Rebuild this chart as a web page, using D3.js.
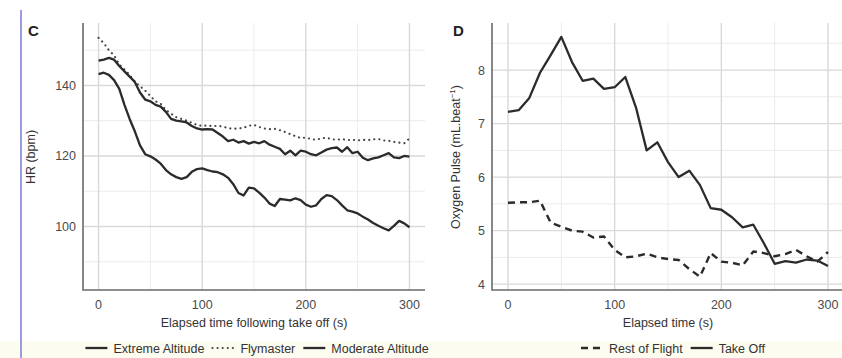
<!DOCTYPE html>
<html>
<head>
<meta charset="utf-8">
<script src="https://cdn.jsdelivr.net/npm/d3@7"></script>
<style>
  body { margin: 0; background: #fff; }
  svg { display: block; font-family: "Liberation Sans", Arial, sans-serif; }
</style>
</head>
<body>
<svg id="chart" width="842" height="358"></svg>
<script>
(function(){

  // DATA ////////////////////////////////////////////////////////////////////

  // panel C, heart rate every 5 s
  var hrTime = d3.range(0, 301, 5);
  var hrExtreme = [143.2, 143.6, 143, 141.5, 139, 134.5, 130.5, 127, 123, 120.5, 119.9, 119, 117.8, 116, 114.8,
    114, 113.5, 114, 115.5, 116.3, 116.5, 116, 115.6, 115.4, 114.8, 113.8, 112, 109.5, 108.8, 111, 110.8,
    109.6, 108.2, 106.5, 105.8, 107.8, 107.6, 107.4, 108, 107.5, 106.2, 105.6, 106, 107.8, 108.9, 108.6,
    107.5, 106, 104.6, 104.2, 103.7, 102.8, 102, 101, 100.2, 99.5, 98.9, 100.2, 101.6, 100.9, 99.8];
  var hrFlymaster = [153.5, 152, 150, 148.5, 146, 144.5, 143, 141, 139.8, 138.5, 137, 135.5, 134.8, 133, 132,
    131, 130.5, 130, 129.4, 128.8, 128.5, 128.7, 128.4, 128.6, 128.3, 127.9, 127.7, 127.8, 128, 128.6, 128.8,
    128.2, 127.8, 127.6, 127.7, 127.3, 126.8, 126.2, 125.6, 125.1, 125.2, 124.8, 124.6, 125, 125.2, 124.7,
    124.6, 124.8, 124.5, 124.6, 124.4, 124.6, 124.5, 124.7, 124.8, 124.4, 124.3, 124, 123.8, 123.6, 125];
  var hrModerate = [147, 147.3, 147.8, 147.3, 145.5, 144, 142.5, 141, 138, 136, 135.5, 134.5, 134, 132.5, 130.5,
    130, 129.8, 129.5, 128.5, 127.8, 127.5, 127.6, 127.5, 126.5, 125.5, 124.2, 124.6, 123.8, 124.2, 123.5, 124,
    123.6, 124.2, 123.2, 122.6, 122, 120.5, 121.5, 120.2, 121.5, 121.2, 120.5, 120.2, 121, 121.8, 122.2,
    122.4, 121.2, 122.5, 120.8, 121.2, 119.5, 118.8, 119.3, 119.6, 120.2, 120.8, 119.6, 119.4, 120, 119.8];

  // panel D, oxygen pulse every 10 s
  var opTime = d3.range(0, 301, 10);
  var opRest = [5.52, 5.53, 5.53, 5.56, 5.15, 5.07, 5.0, 4.98, 4.87, 4.89, 4.64, 4.5, 4.52, 4.57, 4.5, 4.47,
    4.45, 4.28, 4.14, 4.58, 4.42, 4.40, 4.35, 4.61, 4.58, 4.52, 4.56, 4.64, 4.52, 4.42, 4.6];
  var opTakeOff = [7.22, 7.25, 7.48, 7.95, 8.28, 8.62, 8.15, 7.8, 7.84, 7.65, 7.68, 7.87, 7.3, 6.5, 6.65, 6.28,
    6.0, 6.12, 5.85, 5.42, 5.39, 5.25, 5.06, 5.11, 4.76, 4.38, 4.43, 4.40, 4.46, 4.44, 4.34];

  var xTicks = [0, 100, 200, 300];
  var xMinor = [50, 150, 250];
  var hrTicks = [100, 120, 140];
  var hrMinor = [90, 110, 130, 150];
  var opTicks = [4, 5, 6, 7, 8];
  var opMinor = [4.5, 5.5, 6.5, 7.5, 8.5];

  // LAYOUT //////////////////////////////////////////////////////////////////

  var svg = d3.select("#chart");
  var lineColor = "#2b2b2b";
  var textColor = "#4a4a4a";
  var fontSize = "12.5px";

  // faint tint at the bottom of the scan
  svg.append("rect").attr("x", 0).attr("y", 341).attr("width", 842).attr("height", 17).attr("fill", "#fdfcf1");

  // side rule
  svg.append("line").attr("x1", 21).attr("x2", 21).attr("y1", 10).attr("y2", 358)
    .attr("stroke", "#9b9be2").attr("stroke-width", 2);

  function panel(opts){

    var x = d3.scaleLinear().domain([-15, 315]).range([opts.left, opts.right]);
    var y = d3.scaleLinear().domain(opts.yDomain).range([290, 23]);
    var g = svg.append("g");

    // grid
    g.selectAll(".vminor").data(xMinor).enter().append("line")
      .attr("x1", x).attr("x2", x).attr("y1", 23).attr("y2", 290)
      .attr("stroke", "#ebebeb").attr("stroke-width", 1);
    g.selectAll(".hminor").data(opts.minor).enter().append("line")
      .attr("x1", opts.left).attr("x2", opts.right).attr("y1", y).attr("y2", y)
      .attr("stroke", "#ebebeb").attr("stroke-width", 1);
    g.selectAll(".vmajor").data(xTicks).enter().append("line")
      .attr("x1", x).attr("x2", x).attr("y1", 23).attr("y2", 290)
      .attr("stroke", "#d9d9d9").attr("stroke-width", 1.4);
    g.selectAll(".hmajor").data(opts.ticks).enter().append("line")
      .attr("x1", opts.left).attr("x2", opts.right).attr("y1", y).attr("y2", y)
      .attr("stroke", "#d9d9d9").attr("stroke-width", 1.4);

    // axis lines
    g.append("path")
      .attr("d", "M" + opts.left + ",23V290H" + opts.right)
      .attr("fill", "none").attr("stroke", "#6a6a6a").attr("stroke-width", 1.6);

    // tick labels
    g.selectAll(".xt").data(xTicks).enter().append("text")
      .attr("x", x).attr("y", 309).attr("text-anchor", "middle")
      .attr("fill", textColor).style("font-size", fontSize).text(String);
    g.selectAll(".yt").data(opts.ticks).enter().append("text")
      .attr("x", opts.left - 7).attr("y", function(d){ return y(d) + 4.5; })
      .attr("text-anchor", "end").attr("fill", textColor).style("font-size", fontSize).text(String);

    // titles
    g.append("text").attr("x", (opts.left + opts.right) / 2).attr("y", 327)
      .attr("text-anchor", "middle").attr("fill", "#333").style("font-size", fontSize).text(opts.xTitle);
    var yt = g.append("text")
      .attr("transform", "translate(" + opts.yTitleX + ",157) rotate(-90)")
      .attr("text-anchor", "middle").attr("fill", "#333").style("font-size", fontSize);
    opts.yTitle(yt);

    g.append("text").attr("x", opts.labelX).attr("y", 36)
      .attr("font-weight", "bold").attr("fill", "#222").style("font-size", "15px").text(opts.label);

    // lines
    var line = d3.line()
      .x(function(d){ return x(d[0]); })
      .y(function(d){ return y(d[1]); });

    opts.series.forEach(function(s){
      g.append("path")
        .datum(d3.zip(opts.time, s.values))
        .attr("d", line)
        .attr("fill", "none")
        .attr("stroke", s.color || lineColor)
        .attr("stroke-width", s.width)
        .attr("stroke-dasharray", s.dash)
        .attr("stroke-linecap", s.cap)
        .attr("stroke-linejoin", "round");
    });

    // legend
    var leg = g.append("g");
    var items = opts.series.slice().sort(function(a, b){ return d3.ascending(a.name, b.name); });
    var cursor = 0;
    var parts = [];
    items.forEach(function(s){
      var t = leg.append("text").attr("y", 4.5).attr("fill", "#333").style("font-size", fontSize).text(s.name);
      var w = t.node().getComputedTextLength();
      parts.push({ s: s, keyX: cursor });
      t.attr("x", cursor + 28);
      cursor += 28 + w + 8;
    });
    var shift = opts.legendCenter - (cursor - 8) / 2;
    leg.attr("transform", "translate(" + shift + ",348)");
    parts.forEach(function(p){
      leg.append("line")
        .attr("x1", p.keyX).attr("x2", p.keyX + 22).attr("y1", 0).attr("y2", 0)
        .attr("stroke", p.s.color || lineColor).attr("stroke-width", p.s.width)
        .attr("stroke-dasharray", p.s.dash).attr("stroke-linecap", p.s.cap);
    });
  }

  panel({
    left: 83, right: 425,
    yDomain: [82, 157.7],
    ticks: hrTicks, minor: hrMinor,
    time: hrTime,
    xTitle: "Elapsed time following take off (s)",
    yTitleX: 35,
    yTitle: function(t){ t.text("HR (bpm)"); },
    label: "C", labelX: 28,
    legendCenter: 257,
    series: [
      { name: "Extreme Altitude", values: hrExtreme, width: 2.3, dash: null, cap: "butt" },
      { name: "Flymaster", values: hrFlymaster, width: 2.1, dash: "0.1,5", cap: "round", color: "#444" },
      { name: "Moderate Altitude", values: hrModerate, width: 2.3, dash: null, cap: "butt" }
    ]
  });

  panel({
    left: 492, right: 844,
    yDomain: [3.89, 8.88],
    ticks: opTicks, minor: opMinor,
    time: opTime,
    xTitle: "Elapsed time (s)",
    yTitleX: 460,
    yTitle: function(t){
      t.append("tspan").text("Oxygen Pulse (mL.beat");
      t.append("tspan").attr("dy", -5).style("font-size", "8px").text("\u22121");
      t.append("tspan").attr("dy", 5).text(")");
    },
    label: "D", labelX: 453,
    legendCenter: 673,
    series: [
      { name: "Rest of Flight", values: opRest, width: 2.4, dash: "7,5", cap: "butt" },
      { name: "Take Off", values: opTakeOff, width: 2.3, dash: null, cap: "butt" }
    ]
  });

})();
</script>
</body>
</html>
